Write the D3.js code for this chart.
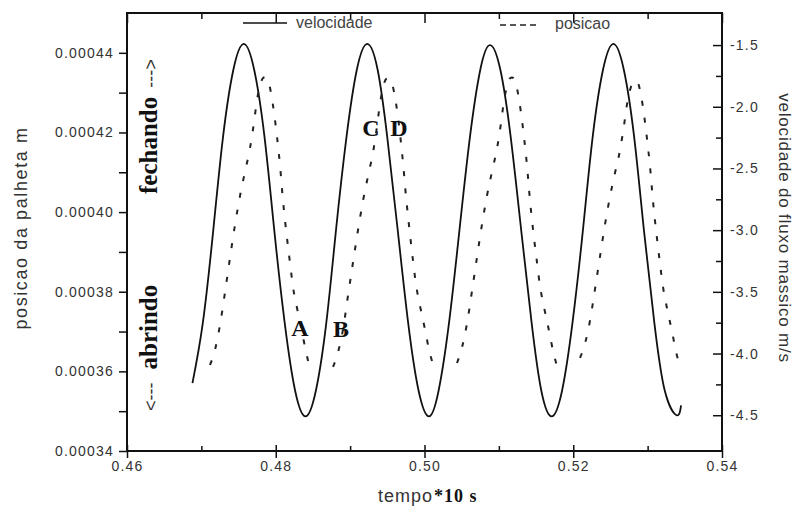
<!DOCTYPE html>
<html>
<head>
<meta charset="utf-8">
<script src="https://d3js.org/d3.v7.min.js"></script>
<style>
    body { margin: 0; background: #fff; }
    svg { display: block; font-family: "Liberation Sans", Arial, sans-serif; }
    .tick text { font-size: 14px; fill: #333; letter-spacing: 1.2px; }
    .axis-title { font-size: 17px; fill: #333; }
    .legend { font-size: 16px; fill: #444; }
    .note { font-family: "Liberation Serif", "Times New Roman", serif; font-weight: bold; fill: #111; }
    .arrow { font-family: "Liberation Sans", Arial, sans-serif; font-weight: normal; fill: #333; }
</style>
</head>
<body>
<svg width="793" height="510"></svg>
<script>
// velocidade do fluxo massico (m/s) against tempo*10 s
var tempoVel = [0.4688, 0.4702, 0.4716, 0.4729, 0.4743, 0.4757, 0.4771, 0.4785, 0.4798, 0.4812, 0.4826, 0.4840,
                0.4854, 0.4868, 0.4881, 0.4895, 0.4909, 0.4923, 0.4937, 0.4950, 0.4964, 0.4978, 0.4992, 0.5006,
                0.5019, 0.5033, 0.5047, 0.5061, 0.5075, 0.5088, 0.5102, 0.5116, 0.5130, 0.5144, 0.5157, 0.5171,
                0.5185, 0.5199, 0.5213, 0.5226, 0.5240, 0.5254, 0.5268, 0.5282, 0.5295, 0.5309, 0.5323, 0.5339, 0.5345];
var velocidade = [-4.24, -3.75, -3.00, -2.25, -1.70, -1.49, -1.70, -2.25, -3.00, -3.75, -4.30, -4.51,
                  -4.30, -3.75, -3.00, -2.25, -1.70, -1.49, -1.70, -2.25, -3.00, -3.75, -4.30, -4.51,
                  -4.30, -3.75, -3.00, -2.25, -1.70, -1.50, -1.70, -2.25, -3.00, -3.75, -4.30, -4.51,
                  -4.30, -3.75, -3.00, -2.25, -1.70, -1.49, -1.70, -2.25, -3.00, -3.75, -4.30, -4.50, -4.42];

// posicao da palheta (m); null marks the gaps seen at the troughs
var tempoPos = [
    0.47116, 0.47183, 0.47250, 0.47318, 0.47385, 0.47452, 0.47519, 0.47586, 0.47654, 0.47708, 0.47748, 0.47788, 0.47829,
    0.47855, 0.47896, 0.47936, 0.47976, 0.48017, 0.48057, 0.48097, 0.48151, 0.48192, 0.48232, 0.48286, 0.48353, 0.48407, 0.48460, null,
    0.48770, 0.48837, 0.48904, 0.48971, 0.49039, 0.49106, 0.49173, 0.49240, 0.49308, 0.49361, 0.49402, 0.49442, 0.49482,
    0.49509, 0.49550, 0.49590, 0.49630, 0.49671, 0.49711, 0.49751, 0.49805, 0.49845, 0.49886, 0.49939, 0.50007, 0.50060, 0.50114, null,
    0.50437, 0.50504, 0.50571, 0.50639, 0.50706, 0.50773, 0.50840, 0.50908, 0.50975, 0.51029, 0.51069, 0.51109, 0.51150,
    0.51176, 0.51217, 0.51257, 0.51297, 0.51338, 0.51378, 0.51418, 0.51472, 0.51513, 0.51553, 0.51607, 0.51674, 0.51728, 0.51781, null,
    0.52091, 0.52158, 0.52225, 0.52292, 0.52360, 0.52427, 0.52494, 0.52561, 0.52628, 0.52682, 0.52723, 0.52763, 0.52803,
    0.52830, 0.52870, 0.52911, 0.52951, 0.52991, 0.53032, 0.53072, 0.53126, 0.53166, 0.53207, 0.53260, 0.53328, 0.53381, 0.53408];
var posicao = [
    0.0003616, 0.0003654, 0.0003716, 0.0003799, 0.0003885, 0.0003968, 0.0004040, 0.0004101, 0.0004161, 0.0004226, 0.0004282, 0.0004317, 0.0004337,
    0.0004339, 0.0004332, 0.0004299, 0.0004251, 0.0004189, 0.0004118, 0.0004030, 0.0003935, 0.0003872, 0.0003812, 0.0003759, 0.0003699, 0.0003649, 0.0003608, null,
    0.0003611, 0.0003648, 0.0003705, 0.0003790, 0.0003874, 0.0003955, 0.0004028, 0.0004090, 0.0004150, 0.0004215, 0.0004273, 0.0004312, 0.0004334,
    0.0004336, 0.0004330, 0.0004302, 0.0004257, 0.0004196, 0.0004124, 0.0004040, 0.0003944, 0.0003879, 0.0003818, 0.0003765, 0.0003705, 0.0003655, 0.0003618, null,
    0.0003621, 0.0003660, 0.0003720, 0.0003802, 0.0003887, 0.0003969, 0.0004041, 0.0004102, 0.0004160, 0.0004224, 0.0004280, 0.0004315, 0.0004336,
    0.0004338, 0.0004331, 0.0004298, 0.0004250, 0.0004188, 0.0004117, 0.0004030, 0.0003936, 0.0003873, 0.0003814, 0.0003761, 0.0003702, 0.0003652, 0.0003613, null,
    0.0003634, 0.0003670, 0.0003727, 0.0003806, 0.0003889, 0.0003969, 0.0004039, 0.0004098, 0.0004155, 0.0004217, 0.0004271, 0.0004306, 0.0004327,
    0.0004330, 0.0004324, 0.0004293, 0.0004246, 0.0004185, 0.0004115, 0.0004028, 0.0003934, 0.0003871, 0.0003812, 0.0003759, 0.0003700, 0.0003650, 0.0003630];

var xTicks = [0.46, 0.48, 0.50, 0.52, 0.54];
var xMinor = [0.47, 0.49, 0.51, 0.53];
var posTicks = [0.00034, 0.00036, 0.00038, 0.00040, 0.00042, 0.00044];
var posMinor = [0.00035, 0.00037, 0.00039, 0.00041, 0.00043];
var velTicks = [-1.5, -2.0, -2.5, -3.0, -3.5, -4.0, -4.5];
var velMinor = [-1.75, -2.25, -2.75, -3.25, -3.75, -4.25];

var svg = d3.select("svg");
var plotL = 127, plotR = 722, plotT = 13, plotB = 451;

var x = d3.scaleLinear().domain([0.46, 0.54]).range([plotL, plotR]);
var yL = d3.scaleLinear().domain([0.00034, 0.00045]).range([plotB, plotT]);
var yR = d3.scaleLinear().domain([-4.79, -1.24]).range([plotB, plotT]);

function tidy(g) {
    g.attr("font-size", null).attr("font-family", null);
    g.select(".domain").remove();
    g.selectAll(".tick line").attr("stroke", "#111").attr("stroke-width", 1.5);
}

// bottom: labelled majors outward, ticks also inward
svg.append("g").attr("transform", "translate(0," + plotB + ")")
    .call(d3.axisBottom(x).tickValues(xTicks).tickFormat(d3.format(".2f")).tickSize(7).tickPadding(3)).call(tidy);
svg.append("g").attr("transform", "translate(0," + plotB + ")")
    .call(d3.axisTop(x).tickValues(xTicks).tickFormat("").tickSize(6)).call(tidy);
svg.append("g").attr("transform", "translate(0," + plotB + ")")
    .call(d3.axisTop(x).tickValues(xMinor).tickFormat("").tickSize(5)).call(tidy);

// top: inward ticks only
svg.append("g").attr("transform", "translate(0," + plotT + ")")
    .call(d3.axisBottom(x).tickValues(xTicks).tickFormat("").tickSize(10)).call(tidy);
svg.append("g").attr("transform", "translate(0," + plotT + ")")
    .call(d3.axisBottom(x).tickValues(xMinor).tickFormat("").tickSize(6)).call(tidy);

// left: posicao
svg.append("g").attr("transform", "translate(" + plotL + ",0)")
    .call(d3.axisLeft(yL).tickValues(posTicks).tickFormat(d3.format(".5f")).tickSize(8).tickPadding(5)).call(tidy);
svg.append("g").attr("transform", "translate(" + plotL + ",0)")
    .call(d3.axisLeft(yL).tickValues(posMinor).tickFormat("").tickSize(8)).call(tidy);

// right: velocidade, ticks inward, labels outside
svg.append("g").attr("transform", "translate(" + plotR + ",0)")
    .call(d3.axisLeft(yR).tickValues(velTicks).tickFormat("").tickSize(9)).call(tidy);
svg.append("g").attr("transform", "translate(" + plotR + ",0)")
    .call(d3.axisLeft(yR).tickValues(velMinor).tickFormat("").tickSize(6)).call(tidy);
svg.append("g").attr("transform", "translate(" + plotR + ",0)")
    .call(d3.axisRight(yR).tickValues(velTicks).tickFormat(function(d) { return d.toFixed(1); }).tickSize(0).tickPadding(8)).call(tidy);

svg.append("rect")
    .attr("x", plotL).attr("y", plotT)
    .attr("width", plotR - plotL).attr("height", plotB - plotT)
    .attr("fill", "none").attr("stroke", "#111").attr("stroke-width", 2);

// curves
var velData = tempoVel.map(function(t, i) { return { t: t, v: velocidade[i] }; });
var posData = tempoPos.map(function(t, i) { return { t: t, p: posicao[i] }; });

var velLine = d3.line()
    .x(function(d) { return x(d.t); })
    .y(function(d) { return yR(d.v); })
    .curve(d3.curveNatural);

var posLine = d3.line()
    .defined(function(d) { return d.p !== null; })
    .x(function(d) { return x(d.t); })
    .y(function(d) { return yL(d.p); })
    .curve(d3.curveMonotoneX);

svg.append("path").datum(velData)
    .attr("d", velLine)
    .attr("fill", "none").attr("stroke", "#111").attr("stroke-width", 1.8);

svg.append("path").datum(posData)
    .attr("d", posLine)
    .attr("fill", "none").attr("stroke", "#222").attr("stroke-width", 2)
    .attr("stroke-dasharray", "5,12");

// legend
svg.append("line").attr("x1", 243).attr("x2", 287).attr("y1", 23).attr("y2", 23)
    .attr("stroke", "#111").attr("stroke-width", 1.6);
svg.append("text").attr("class", "legend").attr("x", 296).attr("y", 28).text("velocidade");
svg.append("line").attr("x1", 500).attr("x2", 538).attr("y1", 25).attr("y2", 25)
    .attr("stroke", "#222").attr("stroke-width", 1.6).attr("stroke-dasharray", "6,4");
svg.append("text").attr("class", "legend").attr("x", 555).attr("y", 29).text("posicao");

// axis titles
svg.append("text").attr("class", "axis-title")
    .attr("transform", "translate(21,228) rotate(-90)")
    .attr("text-anchor", "middle").attr("dominant-baseline", "central")
    .style("font-size", "18px").style("letter-spacing", "1.6px")
    .text("posicao da palheta m");

svg.append("text").attr("class", "axis-title")
    .attr("transform", "translate(784,228) rotate(90)")
    .attr("text-anchor", "middle").attr("dominant-baseline", "central")
    .style("letter-spacing", "0.8px")
    .text("velocidade do fluxo massico m/s");

var xt = svg.append("text").attr("x", 378).attr("y", 502);
xt.append("tspan").attr("class", "axis-title").style("font-size", "18px").style("letter-spacing", "1px").text("tempo");
xt.append("tspan").attr("class", "note").style("font-size", "18px").style("letter-spacing", "1px").attr("dx", 1).text("*10 s");

// annotations
var fech = svg.append("text").attr("transform", "translate(157,194) rotate(-90)");
fech.append("tspan").attr("class", "note").style("font-size", "25px").text("fechando");
fech.append("tspan").attr("class", "arrow").style("font-size", "18px").attr("dx", 9).text("--->");

var abr = svg.append("text").attr("transform", "translate(157,411) rotate(-90)");
abr.append("tspan").attr("class", "arrow").style("font-size", "18px").text("<---");
abr.append("tspan").attr("class", "note").style("font-size", "25px").attr("dx", 13).text("abrindo");

var marks = [
    { s: "A", x: 300, y: 336 },
    { s: "B", x: 341, y: 337 },
    { s: "C", x: 371, y: 136 },
    { s: "D", x: 399, y: 136 }
];
svg.selectAll(".mark").data(marks).enter().append("text")
    .attr("class", "note mark")
    .attr("x", function(d) { return d.x; })
    .attr("y", function(d) { return d.y; })
    .attr("text-anchor", "middle")
    .style("font-size", "24px")
    .text(function(d) { return d.s; });
</script>
</body>
</html>
